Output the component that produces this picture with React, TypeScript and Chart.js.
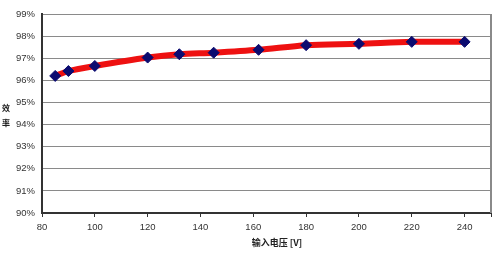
import React, { useEffect, useRef } from "react";
import { Chart, registerables } from "chart.js";

Chart.register(...registerables);

const voltages = [85, 90, 100, 120, 132, 145, 162, 180, 200, 220, 240];
const efficiency = [96.2, 96.42, 96.65, 97.03, 97.18, 97.25, 97.38, 97.59, 97.65, 97.74, 97.74];
const xTitle = "输入电压 [V]";
const yTitleChars = ["效", "率"];

const FONT = "'Liberation Sans', Arial, sans-serif";
const CJK = "'Noto Sans CJK SC', 'Liberation Sans', sans-serif";

const decorPlugin = {
  id: "decor",
  afterDraw(chart: any) {
    const { ctx, chartArea } = chart;
    ctx.save();
    // right border
    ctx.strokeStyle = "#8a8a8a";
    ctx.lineWidth = 2;
    ctx.beginPath();
    ctx.moveTo(chartArea.right, chartArea.top);
    ctx.lineTo(chartArea.right, chartArea.bottom);
    ctx.stroke();
    // titles
    ctx.fillStyle = "#222";
    ctx.textAlign = "center";
    ctx.textBaseline = "middle";
    ctx.font = `bold 9px ${CJK}`;
    ctx.fillText(xTitle, 277, 243);
    ctx.font = `bold 8px ${CJK}`;
    yTitleChars.forEach((c, i) => ctx.fillText(c, 6, 108 + i * 15));
    ctx.restore();
  },
};

export default function App() {
  const ref = useRef<HTMLCanvasElement>(null);
  useEffect(() => {
    const chart = new Chart(ref.current!, {
      type: "line",
      data: {
        datasets: [
          {
            data: voltages.map((v, i) => ({ x: v, y: efficiency[i] })),
            borderColor: "#ee1111",
            borderWidth: 6,
            tension: 0.3,
            pointStyle: "rectRot",
            pointRadius: 5.5,
            pointBackgroundColor: "#0b0b70",
            pointBorderColor: "#0b0b70",
            pointBorderWidth: 1,
          },
        ],
      },
      options: {
        animation: false,
        responsive: false,
        maintainAspectRatio: false,
        plugins: { legend: { display: false }, tooltip: { enabled: false } },
        layout: { padding: { left: 0, right: 9, top: 14, bottom: 0 } },
        scales: {
          x: {
            type: "linear",
            min: 80,
            max: 250,
            afterFit: (s: any) => {
              s.height = 43;
            },
            ticks: {
              stepSize: 20,
              color: "#333",
              font: { family: FONT, size: 9.5 },
              padding: 5,
              maxRotation: 0,
              callback: (v: any) => (v === 250 ? "" : String(v)),
            },
            grid: { drawOnChartArea: false, drawTicks: true, tickLength: 4, color: "#333" },
            border: { color: "#333", width: 2 },
          },
          y: {
            min: 90,
            max: 99,
            afterFit: (s: any) => {
              s.width = 42;
            },
            ticks: {
              stepSize: 1,
              color: "#333",
              font: { family: FONT, size: 9.5 },
              padding: 7,
              callback: (v: any) => `${v}%`,
            },
            grid: { color: "#8a8a8a", lineWidth: 1, drawTicks: false },
            border: { color: "#333", width: 2 },
          },
        },
      },
      plugins: [decorPlugin],
    });
    return () => chart.destroy();
  }, []);
  return (
    <div style={{ position: "absolute", left: 0, top: 0, width: 500, height: 256, background: "#fff" }}>
      <canvas ref={ref} width={500} height={256} style={{ display: "block" }} />
    </div>
  );
}
